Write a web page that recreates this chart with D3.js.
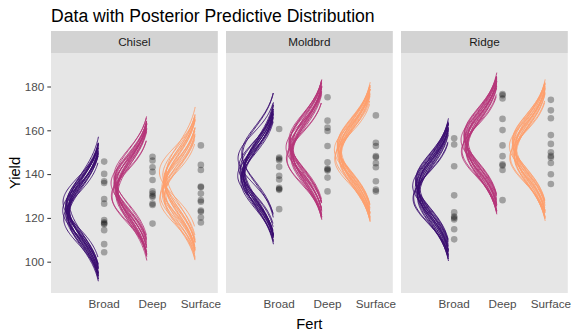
<!DOCTYPE html>
<html>
<head>
<meta charset="utf-8">
<script src="https://cdn.jsdelivr.net/npm/d3@7"></script>
<style>
  html, body { margin: 0; padding: 0; background: #fff; }
  svg { display: block; font-family: "Liberation Sans", Arial, Helvetica, sans-serif; }
</style>
</head>
<body>
<svg id="chart" width="576" height="336"></svg>
<script>
// ---- data ----
const tillages = ["Chisel", "Moldbrd", "Ridge"];
const ferts = ["Broad", "Deep", "Surface"];
const yTicks = [100, 120, 140, 160, 180];
const fertColors = ["#3B0F70", "#B63679", "#FE9F6D"];

// posterior draws of sigma (shared across groups)
const sigmaDraws = [12.1, 12.9, 12.4, 13.5, 12.7, 11.4, 13.2, 13.8, 12.3, 12.8,
                    11.6, 13.3, 12.6, 13.0, 11.3, 13.6, 12.2, 13.1, 12.5, 13.7];

// posterior draws of group means
const muChiselBroad   = [123.1,125.4,121.0,124.6,122.3,127.2,120.1,123.8,125.9,122.7,119.6,124.2,126.5,121.8,123.4,122.0,125.0,120.8,124.9,126.9];
const muChiselDeep    = [134.2,131.0,136.5,133.1,138.4,130.2,135.3,132.6,137.0,134.8,129.6,133.7,136.1,131.8,135.9,133.4,138.9,132.1,134.5,130.7];
const muChiselSurface = [134.0,129.1,139.5,131.6,137.2,128.6,135.4,140.3,132.5,136.8,130.3,138.1,133.2,129.8,141.0,134.9,131.1,137.9,133.7,135.8];
const muMoldbrdBroad  = [140.5,148.6,138.9,141.7,137.5,147.2,139.8,142.4,136.8,140.1,143.0,138.2,149.3,141.2,139.3,137.9,142.8,140.9,138.6,141.5];
const muMoldbrdDeep   = [151.2,148.0,154.3,150.1,155.0,147.4,152.6,149.5,153.8,151.7,146.9,150.8,154.9,148.8,152.2,150.4,155.4,149.1,151.9,153.1];
const muMoldbrdSurface= [150.3,147.2,153.1,149.0,152.6,146.8,151.4,148.5,153.5,150.7,147.9,149.6,152.0,148.1,151.1,150.0,153.0,147.5,149.8,151.8];
const muRidgeBroad    = [133.4,129.6,136.2,131.8,135.0,128.9,134.1,130.7,136.8,132.5,129.2,133.9,135.6,131.2,134.6,132.9,137.1,130.1,133.0,135.3];
const muRidgeDeep     = [154.1,151.0,157.2,152.8,156.0,150.3,155.2,152.0,157.6,153.6,150.8,154.6,156.5,151.6,155.6,153.2,157.9,151.3,154.0,156.2];
const muRidgeSurface  = [151.2,148.1,154.2,149.9,153.4,147.5,152.3,149.0,154.8,150.6,147.9,151.7,153.8,148.6,152.7,150.3,155.0,148.4,151.0,153.1];

// observed yields
const yChiselBroad   = [145.7,140.1,136.7,135.9,128.6,126.5,119.0,118.0,117.4,117.1,114.4,108.0,104.3];
const yChiselDeep    = [147.9,146.2,143.1,141.0,137.3,132.1,131.1,130.1,129.5,126.5,125.9,117.4];
const yChiselSurface = [153.1,144.2,141.9,134.3,134.0,131.1,128.1,127.4,123.4,122.8,120.2,117.9];
const yMoldbrdBroad  = [160.6,147.6,147.0,146.3,143.3,139.2,137.5,133.7,133.2,132.8,124.0];
const yMoldbrdDeep   = [175.1,164.4,161.2,159.7,152.8,145.4,142.5,142.1,141.6,138.4,132.1];
const yMoldbrdSurface= [166.8,154.3,152.8,148.2,147.7,145.0,143.1,136.7,132.9,132.1];
const yRidgeBroad    = [156.4,153.5,143.6,130.3,122.5,120.6,120.0,119.3,114.8,110.2];
const yRidgeDeep     = [176.6,176.0,174.5,165.2,160.1,153.1,148.2,144.5,143.9,141.9,128.1];
const yRidgeSurface  = [173.9,169.1,165.5,157.8,153.8,150.0,148.3,147.6,145.1,139.9,135.5];

const muTable = {
  Chisel:  [muChiselBroad, muChiselDeep, muChiselSurface],
  Moldbrd: [muMoldbrdBroad, muMoldbrdDeep, muMoldbrdSurface],
  Ridge:   [muRidgeBroad, muRidgeDeep, muRidgeSurface]
};
const yieldTable = {
  Chisel:  [yChiselBroad, yChiselDeep, yChiselSurface],
  Moldbrd: [yMoldbrdBroad, yMoldbrdDeep, yMoldbrdSurface],
  Ridge:   [yRidgeBroad, yRidgeDeep, yRidgeSurface]
};

// ---- layout ----
const svg = d3.select("#chart");
const panelTop = 53, panelBottom = 293, stripTop = 31;
const panelLefts = [51, 226, 401], panelW = 166.8;
const densScale = 22.6;   // density -> x units
const baseOffset = 0.06;  // density baseline sits just left of the category
const tailZ = 2.2;

const y = d3.scaleLinear().domain([85.7, 195.3]).range([panelBottom, panelTop]);

function dnorm(v, m, s) {
  const z = (v - m) / s;
  return Math.exp(-0.5 * z * z) / (s * Math.sqrt(2 * Math.PI));
}

tillages.forEach((till, ti) => {
  const left = panelLefts[ti];
  const x = d3.scaleLinear().domain([-0.1, 3.35]).range([left, left + panelW]);
  const g = svg.append("g");

  g.append("rect").attr("x", left).attr("y", panelTop)
    .attr("width", panelW).attr("height", panelBottom - panelTop).attr("fill", "#E6E6E6");
  g.append("rect").attr("x", left).attr("y", stripTop)
    .attr("width", panelW).attr("height", panelTop - stripTop).attr("fill", "#D3D3D3");
  g.append("text").attr("x", left + panelW / 2).attr("y", 46)
    .attr("text-anchor", "middle").attr("font-size", 11.7).attr("fill", "#1A1A1A").text(till);

  const clipId = "clip" + ti;
  svg.append("clipPath").attr("id", clipId).append("rect")
    .attr("x", left).attr("y", panelTop).attr("width", panelW).attr("height", panelBottom - panelTop);
  const pg = g.append("g").attr("clip-path", `url(#${clipId})`);

  ferts.forEach((f, fi) => {
    const cx = fi + 1 - baseOffset;
    const mus = muTable[till][fi];
    mus.forEach((m, di) => {
      const s = sigmaDraws[di];
      const ys = d3.range(0, 101).map(k => m - tailZ * s + (2 * tailZ * s) * k / 100);
      const line = d3.line()
        .x(v => x(cx - densScale * dnorm(v, m, s)))
        .y(v => y(v));
      pg.append("path").attr("d", line(ys)).attr("fill", "none")
        .attr("stroke", fertColors[fi]).attr("stroke-width", 0.9);
    });
  });

  ferts.forEach((f, fi) => {
    const cx = fi + 1;
    pg.selectAll(null).data(yieldTable[till][fi]).enter().append("circle")
      .attr("cx", x(cx)).attr("cy", d => y(d)).attr("r", 3.3)
      .attr("fill", "#000").attr("fill-opacity", 0.3);
  });

  // x tick labels
  g.selectAll(null).data(ferts).enter().append("text")
    .attr("x", (d, i) => x(i + 1)).attr("y", 307.5)
    .attr("text-anchor", "middle").attr("font-size", 11.7).attr("fill", "#4D4D4D").text(d => d);
});

// y axis
const yAxis = svg.append("g").attr("transform", `translate(${panelLefts[0]},0)`)
  .call(d3.axisLeft(y).tickValues(yTicks).tickSize(3.7).tickPadding(3));
yAxis.select(".domain").remove();
yAxis.selectAll(".tick line").attr("stroke", "#333333");
yAxis.selectAll(".tick text").attr("fill", "#4D4D4D").attr("font-size", 11.7)
  .attr("font-family", "Liberation Sans, Arial, sans-serif");

// titles
svg.append("text").attr("x", 51).attr("y", 22).attr("font-size", 17.6).attr("fill", "#000")
  .text("Data with Posterior Predictive Distribution");
svg.append("text").attr("x", (51 + 567.8) / 2).attr("y", 329).attr("text-anchor", "middle")
  .attr("font-size", 14.7).attr("fill", "#000").text("Fert");
svg.append("text").attr("transform", `translate(19.5,${(panelTop + panelBottom) / 2}) rotate(-90)`)
  .attr("text-anchor", "middle").attr("font-size", 14.7).attr("fill", "#000").text("Yield");
</script>
</body>
</html>
